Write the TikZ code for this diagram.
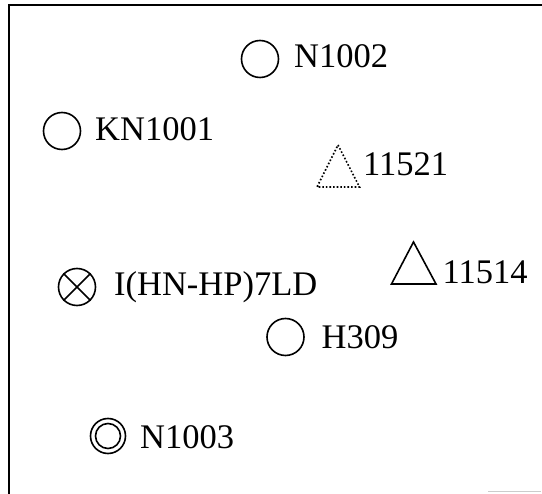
\documentclass[tikz,border=0pt]{standalone}
\usepackage{fontspec}
\setmainfont{Liberation Serif}
\begin{document}
\begin{tikzpicture}[x=1pt,y=-1pt,
  lbl/.style={anchor=base west,inner sep=0pt,font=\fontsize{34.5}{40}\selectfont},
  sym/.style={circle,draw,line width=1.6pt,minimum size=37pt,inner sep=0pt},
  ln/.style={line width=1.6pt}]
\useasboundingbox (0,0) rectangle (542,494);
% frame
\draw[line width=2pt] (9,494) -- (9,5) -- (542,5);
\draw[gray!40,line width=1pt] (488,492) -- (541,492);
% N1002
\node[sym] (c1) at (260,59) {};
\node[lbl] (t1) at (294,68) {N1002};
% KN1001
\node[sym] (c2) at (62,131) {};
\node[lbl] (t2) at (95,141) {KN1001};
% 11521 dotted triangle
\draw[ln,dotted] (338,145) -- (359.5,187) -- (317,187) -- cycle;
\node[lbl] (t3) at (363,176) {11521};
% 11514 triangle
\draw[ln,line join=miter] (413.5,242) -- (436,284) -- (391.5,284) -- cycle;
\node[lbl] (t4) at (442.5,283.5) {11514};
% crossed circle
\node[sym] (c5) at (77,287) {};
\draw[ln] (c5.north west) -- (c5.south east) (c5.north east) -- (c5.south west);
\node[lbl] (t5) at (114,296) {I(HN-HP)7LD};
% H309
\node[sym] (c6) at (285.5,337) {};
\node[lbl] (t6) at (321.5,349) {H309};
% N1003 double circle
\node[sym,minimum size=35pt] (c7) at (108,436) {};
\node[circle,draw,line width=1.6pt,minimum size=25pt,inner sep=0pt] (c7i) at (c7.center) {};
\node[lbl] (t7) at (140,449) {N1003};
\end{tikzpicture}
\end{document}
